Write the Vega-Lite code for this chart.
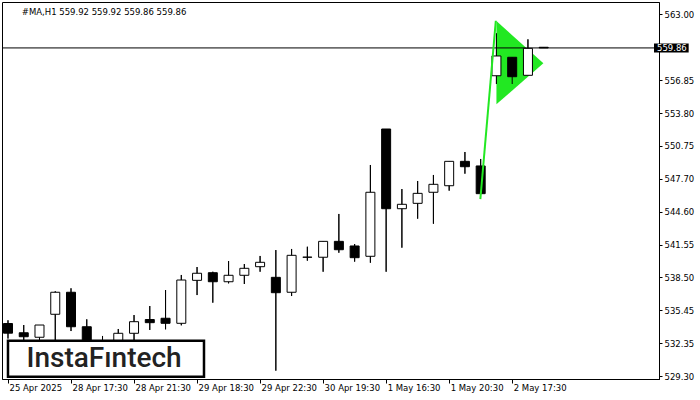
{
  "$schema": "https://vega.github.io/schema/vega-lite/v6.json",
  "width": 657,
  "height": 377,
  "autosize": "none",
  "padding": {"left": 2, "top": 2, "right": 41, "bottom": 21},
  "background": "white",
  "view": {"stroke": "black", "strokeWidth": 1},
  "config": {
    "axis": {"labelFont": "DejaVu Sans", "labelFontSize": 8.5, "labelColor": "black", "domainColor": "black", "tickColor": "black", "domainWidth": 1, "tickWidth": 1, "grid": false, "title": null, "labelFlush": false, "labelOverlap": false},
    "axisX": {"labelAlign": "left", "labelOffset": 1, "labelPadding": 0, "tickSize": 4},
    "axisY": {"tickSize": 3, "labelPadding": 2}
  },
  "datasets": {
    "candles": [
      {"i": 0, "open": 534.2, "high": 534.5, "low": 532.8, "close": 533.3},
      {"i": 1, "open": 533.34, "high": 534.06, "low": 532.5, "close": 532.97},
      {"i": 2, "open": 532.92, "high": 534.06, "low": 532.3, "close": 534.06},
      {"i": 3, "open": 535.06, "high": 537.2, "low": 532.5, "close": 537.11},
      {"i": 4, "open": 537.11, "high": 537.48, "low": 533.5, "close": 533.9},
      {"i": 5, "open": 533.9, "high": 534.59, "low": 531.8, "close": 532.3},
      {"i": 6, "open": 532.5, "high": 533.04, "low": 531.6, "close": 532.1},
      {"i": 7, "open": 532.5, "high": 533.69, "low": 532.2, "close": 533.29},
      {"i": 8, "open": 533.29, "high": 534.99, "low": 532.6, "close": 534.37},
      {"i": 9, "open": 534.57, "high": 535.83, "low": 533.6, "close": 534.28},
      {"i": 10, "open": 534.69, "high": 537.32, "low": 533.66, "close": 534.22},
      {"i": 11, "open": 534.22, "high": 538.72, "low": 534.03, "close": 538.25},
      {"i": 12, "open": 538.22, "high": 539.46, "low": 536.85, "close": 538.88},
      {"i": 13, "open": 538.93, "high": 539.02, "low": 536.14, "close": 538.09},
      {"i": 14, "open": 538.09, "high": 540.02, "low": 537.94, "close": 538.69},
      {"i": 15, "open": 538.69, "high": 539.74, "low": 537.88, "close": 539.34},
      {"i": 16, "open": 539.49, "high": 540.49, "low": 539.02, "close": 539.9},
      {"i": 17, "open": 538.5, "high": 541.04, "low": 529.81, "close": 537.07},
      {"i": 18, "open": 537.11, "high": 541.14, "low": 536.76, "close": 540.55},
      {"i": 19, "open": 540.37, "high": 541.35, "low": 540.05, "close": 540.38},
      {"i": 20, "open": 540.37, "high": 541.85, "low": 539.02, "close": 541.85},
      {"i": 21, "open": 541.85, "high": 544.4, "low": 540.79, "close": 541.07},
      {"i": 22, "open": 541.42, "high": 541.6, "low": 539.96, "close": 540.33},
      {"i": 23, "open": 540.46, "high": 548.96, "low": 539.86, "close": 546.42},
      {"i": 24, "open": 552.31, "high": 552.31, "low": 539.02, "close": 544.89},
      {"i": 25, "open": 544.89, "high": 546.72, "low": 541.26, "close": 545.3},
      {"i": 26, "open": 545.39, "high": 547.47, "low": 543.96, "close": 546.32},
      {"i": 27, "open": 546.42, "high": 548.03, "low": 543.49, "close": 547.16},
      {"i": 28, "open": 547.03, "high": 549.3, "low": 546.57, "close": 549.3},
      {"i": 29, "open": 549.3, "high": 550.17, "low": 548.15, "close": 548.8},
      {"i": 30, "open": 548.87, "high": 549.52, "low": 546.29, "close": 546.29},
      {"i": 31, "open": 557.27, "high": 561.22, "low": 556.5, "close": 559.11},
      {"i": 32, "open": 558.99, "high": 558.99, "low": 556.5, "close": 557.18},
      {"i": 33, "open": 557.31, "high": 560.66, "low": 557.31, "close": 559.82},
      {"i": 34, "open": 559.92, "high": 559.92, "low": 559.86, "close": 559.86}
    ],
    "pole": [
      {"i": 29.98, "p": 545.78},
      {"i": 30.96, "p": 562.39}
    ],
    "flag": [
      {"i": 31.0, "top": 562.37, "bot": 554.61},
      {"i": 33.98, "top": 558.43, "bot": 558.43}
    ]
  },
  "layer": [
    {
      "data": {"name": "candles"},
      "mark": {"type": "rule", "color": "black", "strokeWidth": 1},
      "encoding": {
        "x": {"field": "i", "type": "quantitative", "scale": {"domain": [-0.0625, 41], "nice": false, "zero": false},
          "axis": {"orient": "bottom", "values": [0, 4, 8, 12, 16, 20, 24, 28, 32], "labelOverlap": false, "labelBound": false, "labelExpr": "['25 Apr 2025','28 Apr 17:30','28 Apr 21:30','29 Apr 18:30','29 Apr 22:30','30 Apr 19:30','1 May 16:30','1 May 20:30','2 May 17:30'][datum.value/4]"}},
        "y": {"field": "low", "type": "quantitative", "scale": {"domain": [529.034, 564.136], "nice": false, "zero": false},
          "axis": {"orient": "right", "values": [529.3, 532.35, 535.45, 538.5, 541.55, 544.6, 547.7, 550.75, 553.8, 556.85, 563.0], "format": ".2f", "labelOverlap": false, "labelBound": false, "labelSeparation": 0, "tickCount": 12}},
        "y2": {"field": "high"}
      }
    },
    {
      "data": {"name": "flag"},
      "mark": {"type": "area", "color": "#22e822", "opacity": 1},
      "encoding": {
        "x": {"field": "i", "type": "quantitative", "scale": {"domain": [-0.0625, 41], "nice": false, "zero": false}},
        "y": {"field": "top", "type": "quantitative", "scale": {"domain": [529.034, 564.136], "nice": false, "zero": false}},
        "y2": {"field": "bot"}
      }
    },
    {
      "data": {"values": [{"price": 559.86}]},
      "mark": {"type": "rule", "color": "black", "strokeWidth": 1},
      "encoding": {
        "y": {"field": "price", "type": "quantitative", "scale": {"domain": [529.034, 564.136], "nice": false, "zero": false}}
      }
    },
    {
      "data": {"name": "candles"},
      "mark": {"type": "rule", "color": "black", "strokeWidth": 1},
      "encoding": {
        "x": {"field": "i", "type": "quantitative", "scale": {"domain": [-0.0625, 41], "nice": false, "zero": false}},
        "y": {"field": "low", "type": "quantitative", "scale": {"domain": [529.034, 564.136], "nice": false, "zero": false}},
        "y2": {"field": "high"}
      }
    },
    {
      "data": {"name": "candles"},
      "mark": {"type": "bar", "size": 9, "stroke": "black", "strokeWidth": 1},
      "encoding": {
        "x": {"field": "i", "type": "quantitative", "scale": {"domain": [-0.0625, 41], "nice": false, "zero": false}},
        "y": {"field": "open", "type": "quantitative", "scale": {"domain": [529.034, 564.136], "nice": false, "zero": false}},
        "y2": {"field": "close"},
        "fill": {"condition": {"test": "datum.close >= datum.open", "value": "white"}, "value": "black"}
      }
    },
    {
      "data": {"name": "pole"},
      "mark": {"type": "line", "color": "#22e822", "strokeWidth": 2},
      "encoding": {
        "x": {"field": "i", "type": "quantitative", "scale": {"domain": [-0.0625, 41], "nice": false, "zero": false}},
        "y": {"field": "p", "type": "quantitative", "scale": {"domain": [529.034, 564.136], "nice": false, "zero": false}}
      }
    },
    {
      "data": {"values": [{"x1": 0, "x2": 12.44, "y1": 532.6, "y2": 529.25}]},
      "mark": {"type": "rect", "fill": "white", "stroke": "black", "strokeWidth": 2.5},
      "encoding": {
        "x": {"field": "x1", "type": "quantitative", "scale": {"domain": [-0.0625, 41], "nice": false, "zero": false}},
        "x2": {"field": "x2"},
        "y": {"field": "y1", "type": "quantitative", "scale": {"domain": [529.034, 564.136], "nice": false, "zero": false}},
        "y2": {"field": "y2"}
      }
    },
    {
      "data": {"values": [{"x": 6.1, "y": 530.9, "t": "InstaFıntech"}]},
      "mark": {"type": "text", "font": "Roboto", "fontSize": 28, "fontWeight": 500, "fill": "#222222", "align": "center", "baseline": "middle"},
      "encoding": {
        "x": {"field": "x", "type": "quantitative", "scale": {"domain": [-0.0625, 41], "nice": false, "zero": false}},
        "y": {"field": "y", "type": "quantitative", "scale": {"domain": [529.034, 564.136], "nice": false, "zero": false}},
        "text": {"field": "t"}
      }
    },
    {
      "data": {"values": [{"x": 0.875, "y": 563.2, "t": "#MA,H1  559.92 559.92 559.86 559.86"}]},
      "mark": {"type": "text", "font": "DejaVu Sans", "fontSize": 8.5, "fill": "black", "align": "left", "baseline": "middle"},
      "encoding": {
        "x": {"field": "x", "type": "quantitative", "scale": {"domain": [-0.0625, 41], "nice": false, "zero": false}},
        "y": {"field": "y", "type": "quantitative", "scale": {"domain": [529.034, 564.136], "nice": false, "zero": false}},
        "text": {"field": "t"}
      }
    },
    {
      "data": {"values": [{"x1": 41.0, "x2": 43.2, "y1": 560.28, "y2": 559.44}]},
      "mark": {"type": "rect", "fill": "black"},
      "encoding": {
        "x": {"field": "x1", "type": "quantitative", "scale": {"domain": [-0.0625, 41], "nice": false, "zero": false}},
        "x2": {"field": "x2"},
        "y": {"field": "y1", "type": "quantitative", "scale": {"domain": [529.034, 564.136], "nice": false, "zero": false}},
        "y2": {"field": "y2"}
      }
    },
    {
      "data": {"values": [{"x": 41.19, "y": 559.86, "t": "559.86"}]},
      "mark": {"type": "text", "font": "DejaVu Sans", "fontSize": 8.5, "fill": "white", "align": "left", "baseline": "middle"},
      "encoding": {
        "x": {"field": "x", "type": "quantitative", "scale": {"domain": [-0.0625, 41], "nice": false, "zero": false}},
        "y": {"field": "y", "type": "quantitative", "scale": {"domain": [529.034, 564.136], "nice": false, "zero": false}},
        "text": {"field": "t"}
      }
    }
  ]
}
